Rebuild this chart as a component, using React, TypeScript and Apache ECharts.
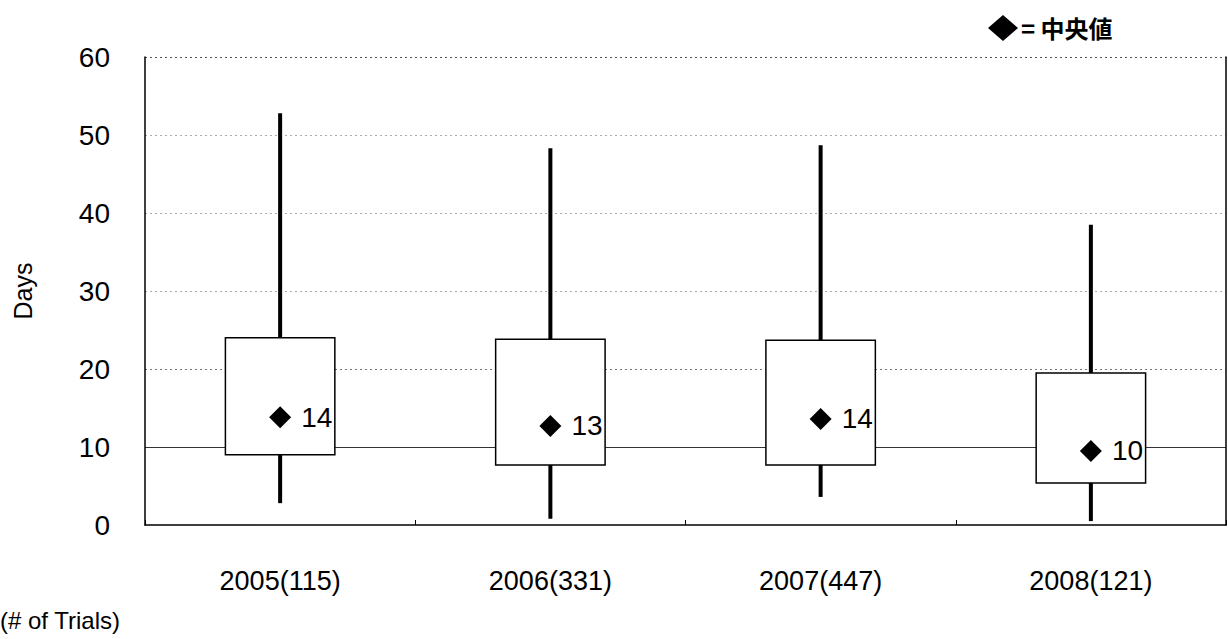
import React, { useEffect, useRef } from 'react';
import * as echarts from 'echarts';

const categories = ['2005(115)', '2006(331)', '2007(447)', '2008(121)'];
const whiskerLow = [2.8, 0.8, 3.6, 0.5];
const boxLow = [9.0, 7.7, 7.7, 5.4];
const medians = [13.8, 12.7, 13.6, 9.5];
const boxHigh = [24.0, 23.8, 23.7, 19.5];
const whiskerHigh = [52.8, 48.3, 48.7, 38.5];
const medianLabels = ['14', '13', '14', '10'];
const yMin = 0;
const yMax = 60;
const yInterval = 10;
const yAxisTitle = 'Days';
const xAxisNote = '(# of Trials)';
const legendText = '= 中央値';

const FONT = '"Liberation Sans", Arial, sans-serif';
const CLEAR = 'rgba(0,0,0,0)';

export default function App() {
  const ref = useRef<HTMLDivElement>(null);
  useEffect(() => {
    if (!ref.current) return;
    const chart = echarts.init(ref.current, null, { renderer: 'svg' });
    const boxData = categories.map((_, i) => [i, whiskerLow[i], boxLow[i], boxHigh[i], whiskerHigh[i]]);
    const medianData = categories.map((_, i) => ({ value: [i, medians[i]], label: medianLabels[i] }));

    const option: any = {
      animation: false,
      backgroundColor: '#fff',
      textStyle: { fontFamily: FONT, color: '#000' },
      grid: { left: 145, right: 2, top: 57, bottom: 114, containLabel: false },
      xAxis: {
        type: 'category',
        data: categories,
        boundaryGap: true,
        axisLine: { show: true, lineStyle: { color: '#000', width: 1.5 } },
        axisTick: { show: true, inside: true, length: 5, lineStyle: { color: '#000' } },
        axisLabel: { fontSize: 27, color: '#000', margin: 42, fontFamily: FONT },
        splitLine: { show: false },
      },
      yAxis: [
        {
          type: 'value',
          min: yMin,
          max: yMax,
          interval: yInterval,
          name: yAxisTitle,
          nameLocation: 'middle',
          nameGap: 110,
          nameRotate: 90,
          nameTextStyle: { fontSize: 25, color: '#000', fontFamily: FONT },
          axisLine: { show: true, lineStyle: { color: '#000', width: 1.5 } },
          axisTick: { show: false },
          axisLabel: { fontSize: 28, color: '#000', margin: 35, fontFamily: FONT },
          splitLine: {
            show: true,
            lineStyle: {
              color: [CLEAR, CLEAR, '#777', '#aaa', '#aaa', '#aaa', '#555'],
              type: [2, 3],
              width: 1,
            },
          },
        },
        {
          type: 'value',
          min: yMin,
          max: yMax,
          interval: yInterval,
          position: 'right',
          axisLine: { show: true, lineStyle: { color: '#000', width: 1.5 } },
          axisTick: { show: false },
          axisLabel: { show: false },
          splitLine: {
            show: true,
            lineStyle: {
              color: [CLEAR, '#333', CLEAR, CLEAR, CLEAR, CLEAR, CLEAR],
              type: 'solid',
              width: 1,
            },
          },
        },
      ],
      series: [
        {
          type: 'custom',
          z: 3,
          data: boxData,
          encode: { x: 0, y: [1, 2, 3, 4] },
          renderItem: (params: any, api: any) => {
            const idx = api.value(0);
            const pMin = api.coord([idx, api.value(1)]);
            const pQ1 = api.coord([idx, api.value(2)]);
            const pQ3 = api.coord([idx, api.value(3)]);
            const pMax = api.coord([idx, api.value(4)]);
            const band = api.size([1, 0])[0];
            const w = band * 0.405;
            const cx = pQ1[0];
            return {
              type: 'group',
              children: [
                {
                  type: 'line',
                  shape: { x1: cx, y1: pQ1[1], x2: cx, y2: pMin[1] },
                  style: { stroke: '#000', lineWidth: 4 },
                },
                {
                  type: 'line',
                  shape: { x1: cx, y1: pQ3[1], x2: cx, y2: pMax[1] },
                  style: { stroke: '#000', lineWidth: 4 },
                },
                {
                  type: 'rect',
                  shape: { x: cx - w / 2, y: pQ3[1], width: w, height: pQ1[1] - pQ3[1] },
                  style: { fill: '#fff', stroke: '#000', lineWidth: 1.5 },
                },
              ],
            };
          },
        },
        {
          type: 'scatter',
          z: 4,
          data: medianData,
          symbol: 'diamond',
          symbolSize: [22, 22],
          itemStyle: { color: '#000', opacity: 1 },
          label: {
            show: true,
            position: 'right',
            distance: 10,
            fontSize: 28,
            color: '#000',
            fontFamily: FONT,
            formatter: (p: any) => p.data.label,
          },
        },
      ],
      graphic: [
        {
          type: 'polygon',
          shape: { points: [[1003, 15], [1018, 28], [1003, 41], [988, 28]] },
          style: { fill: '#000' },
        },
        {
          type: 'text',
          left: 1021,
          top: 15,
          style: {
            text: legendText,
            font: 'bold 24px "Noto Sans CJK JP", "Liberation Sans", sans-serif',
            fill: '#000',
          },
        },
        {
          type: 'text',
          left: 0,
          top: 608,
          style: { text: xAxisNote, font: `24px ${FONT}`, fill: '#000' },
        },
      ],
    };
    chart.setOption(option);
    return () => chart.dispose();
  }, []);
  return (
    <div
      ref={ref}
      style={{ position: 'absolute', left: 0, top: 0, width: 1228, height: 639, background: '#fff' }}
    />
  );
}
